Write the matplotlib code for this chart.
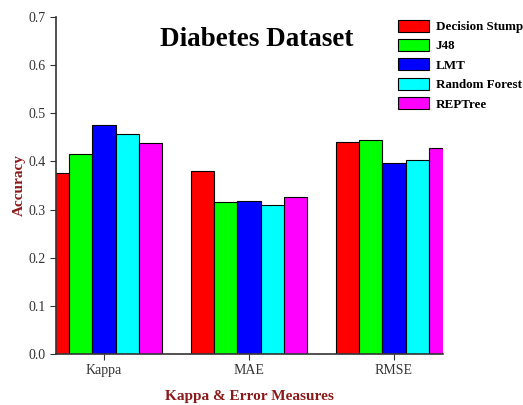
import numpy as np
import matplotlib
matplotlib.use('Agg')
import matplotlib.pyplot as plt

# Data ------------------------------------------------------------------------
measures = ['Kappa', 'MAE', 'RMSE']
classifiers = ['Decision Stump', 'J48', 'LMT', 'Random Forest', 'REPTree']
decision_stump = [0.375, 0.380, 0.441]
j48 = [0.416, 0.316, 0.445]
lmt = [0.475, 0.317, 0.396]
random_forest = [0.456, 0.310, 0.402]
reptree = [0.438, 0.327, 0.428]
colors = ['#ff0000', '#00ff00', '#0000ff', '#00ffff', '#ff00ff']

plt.rcParams['font.family'] = ['Liberation Serif', 'DejaVu Serif']

fig = plt.figure(figsize=(5.23, 4.05), dpi=100)
ax = fig.add_axes([0.107, 0.126, 0.740, 0.832])

x = np.arange(len(measures))
w = 0.16
series = [decision_stump, j48, lmt, random_forest, reptree]
for i, vals in enumerate(series):
    ax.bar(x + (i - 2) * w, vals, w, color=colors[i], edgecolor='black',
           linewidth=0.8, label=classifiers[i])

ax.set_xlim(-0.331, 2.338)
ax.set_ylim(0, 0.7)
ax.set_yticks(np.arange(0, 0.71, 0.1))
ax.set_yticklabels(['%.1f' % v for v in np.arange(0, 0.71, 0.1)])
ax.set_xticks(x)
ax.set_xticklabels(measures)
ax.tick_params(axis='both', labelsize=10, color='#333333', labelcolor='#333333')
ax.tick_params(axis='x', length=4)
ax.tick_params(axis='y', length=4)
for s in ['top', 'right']:
    ax.spines[s].set_visible(False)
for s in ['left', 'bottom']:
    ax.spines[s].set_color('#333333')
    ax.spines[s].set_linewidth(1.2)

ax.set_ylabel('Accuracy', color='#8b1a1a', fontweight='bold', fontsize=11, labelpad=2)
ax.set_xlabel('Kappa & Error Measures', color='#8b1a1a', fontweight='bold', fontsize=11, labelpad=9)

fig.text(0.491, 0.903, 'Diabetes Dataset', fontsize=19.5, fontweight='bold', ha='center', va='center')

leg = ax.legend(loc='upper left', bbox_to_anchor=(0.87, 1.008), frameon=False,
                prop={'weight': 'bold', 'size': 9.4}, handlelength=2.4, handleheight=1.05,
                labelspacing=0.45, handletextpad=0.5, borderaxespad=0.0)

fig.savefig('out.png', dpi=100)
